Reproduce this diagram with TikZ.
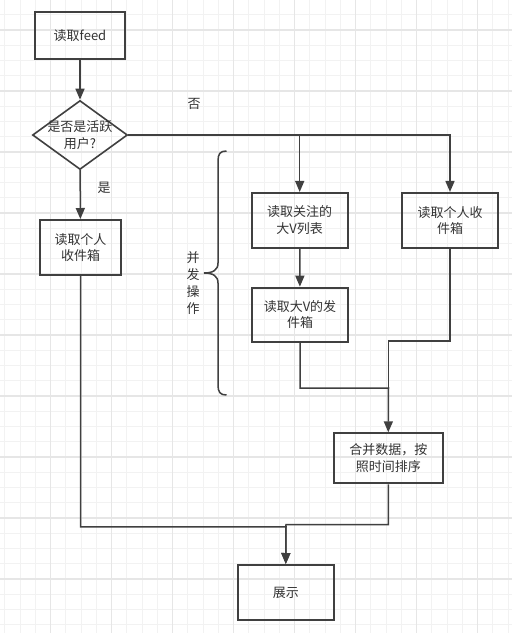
\documentclass[tikz,border=0pt]{standalone}
\usepackage{fontspec}
\setmainfont{Noto Sans CJK SC}
\usetikzlibrary{arrows.meta,shapes.geometric}
\definecolor{gridminor}{HTML}{F2F2F2}
\definecolor{gridmajor}{HTML}{E6E6E6}
\definecolor{ink}{HTML}{404040}
\definecolor{txt}{HTML}{333333}
\tikzset{
  box/.style={draw=ink, line width=2pt, rectangle, inner sep=0pt, text=txt, align=center,
    font=\fontsize{13}{16.5}\selectfont},
  dia/.style={draw=ink, line width=1.6pt, diamond, inner sep=0pt, minimum width=95pt, minimum height=69pt},
  conn/.style={draw=ink, line width=1.5pt},
  arr/.style={conn, -{Triangle[length=11pt,width=9pt]}},
  lbl/.style={text=txt, font=\fontsize{13}{16.5}\selectfont, inner sep=0pt, align=center},
}
\begin{document}
\begin{tikzpicture}[x=1pt,y=-1pt]
\useasboundingbox (0,0) rectangle (512,633);
\fill[white] (0,0) rectangle (512,633);
% grid
\foreach \i in {0,...,33} { \draw[gridminor, line width=1pt] ({4.75+15.25*\i},0) -- ({4.75+15.25*\i},633); }
\foreach \i in {0,...,42} { \draw[gridminor, line width=1pt] (0,{-0.5+15.25*\i}) -- (512,{-0.5+15.25*\i}); }
\foreach \i in {0,...,7} { \draw[gridmajor, line width=1.2pt] ({50.5+61*\i},0) -- ({50.5+61*\i},633); }
\foreach \i in {0,...,10} { \draw[gridmajor, line width=1.2pt] (0,{30+61*\i}) -- (512,{30+61*\i}); }

% nodes
\node[box, minimum width=90pt, minimum height=47pt] (feed) at (80,35.5) {读取feed};
\node[dia, label={[lbl]center:是否是活跃\\用户?}] (dec) at (80,135) {};
\node[box, minimum width=81pt, minimum height=55pt] (inboxL) at (80.5,247.5) {读取个人\\收件箱};
\node[box, minimum width=96pt, minimum height=54.7pt] (follow) at (299.7,220.3) {读取关注的\\大V列表};
\node[box, minimum width=96.6pt, minimum height=54.7pt] (inboxR) at (450,220.3) {读取个人收\\件箱};
\node[box, minimum width=96.6pt, minimum height=54pt] (outbox) at (300,314.7) {读取大V的发\\件箱};
\node[box, minimum width=108.7pt, minimum height=50pt] (merge) at (388.3,458.3) {合并数据，按\\照时间排序};
\node[box, minimum width=96.3pt, minimum height=55pt] (show) at (285.8,592.5) {展示};

\node[lbl] (no) at (194,104) {否};
\node[lbl] (yes) at (104,188) {是};
\node[lbl, font=\fontsize{13}{17}\selectfont] (conc) at (193,283.5) {并\\发\\操\\作};

% brace
\draw[conn] (226.5,151) .. controls (220,151) and (218,154) .. (218,161)
  -- (218,263) .. controls (218,270) and (213,273) .. (204,273)
  .. controls (213,273) and (218,276) .. (218,283)
  -- (218,385) .. controls (218,392) and (220,395) .. (226.5,395);

% connectors
\coordinate (j1) at (388.5,388);
\coordinate (j2) at (388.5,341);
\coordinate (j3) at (286,524.5);
\coordinate (j4) at (286,526.8);
\draw[arr] (feed) -- (dec);
\draw[arr] (dec) -- (inboxL);
\draw[arr] (dec.east) -| (follow.north);
\draw[arr] (dec.east) -| (inboxR.north);
\draw[arr] (follow) -- (outbox);
\draw[conn] (inboxR.south) |- (j2) -- (j1);
\draw[arr] (outbox.south) |- (j1) -- (merge.north);
\draw[arr] (merge.south) |- (j3) -- (show.north);
\draw[arr] (inboxL.south) |- (j4) -- (show.north);
\end{tikzpicture}
\end{document}
